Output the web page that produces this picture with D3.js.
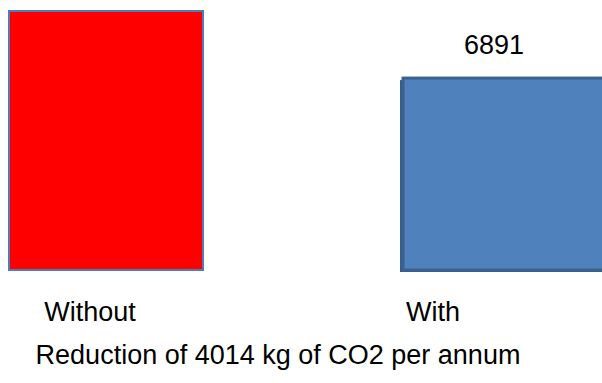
<!DOCTYPE html>
<html>
<head>
<meta charset="utf-8">
<script src="https://cdn.jsdelivr.net/npm/d3@7"></script>
<style>
  html, body { margin: 0; padding: 0; background: #fff; }
  text { font-family: "Liberation Sans", Arial, sans-serif; fill: #000; }
</style>
</head>
<body>
<div id="chart"></div>
<script>
// data (the red bar's label is cut off at the top)
const categories = ["Without", "With"];
const values = [9300, 6891];
const valueLabels = ["", "6891"];
const colors = ["#ff0000", "#4f81bd"];
const strokes = ["#4a7ebb", "#3a6190"];
const caption = "Reduction of 4014 kg of CO2 per annum";

let config = {
    div: '#chart',
    width: 602,
    height: 383,
    top: 11,
    bottom: 270,
    left: 9,
    right: 597
};

let svg = d3.select(config.div)
    .append("svg")
    .attr("width", config.width)
    .attr("height", config.height);

let x = d3.scaleBand()
    .domain(categories)
    .range([config.left, config.right])
    .paddingInner(200 / 394);

let y = d3.scaleLinear()
    .domain([0, d3.max(values)])
    .range([config.bottom, config.top]);

let data = categories.map((c, i) => ({name: c, value: values[i], label: valueLabels[i], i: i}));

// the last bar runs off the right edge of the picture
let barWidth = d => d.i === categories.length - 1 ? config.width - x(d.name) + 4 : x.bandwidth();

// shadow under the blue bar
svg.append("g")
    .selectAll("rect")
    .data(data.filter(d => d.i === 1))
    .join("rect")
    .attr("x", d => x(d.name) - 3)
    .attr("y", d => y(d.value) + 2)
    .attr("width", barWidth)
    .attr("height", d => y(0) - y(d.value))
    .attr("fill", "#385d8a");

// bars
svg.append("g")
    .selectAll("rect")
    .data(data)
    .join("rect")
    .attr("x", d => x(d.name))
    .attr("y", d => y(d.value))
    .attr("width", barWidth)
    .attr("height", d => y(0) - y(d.value))
    .attr("fill", d => colors[d.i])
    .attr("stroke", d => strokes[d.i])
    .attr("stroke-width", d => d.i === 1 ? 3 : 2);

// value labels
svg.append("g")
    .selectAll("text")
    .data(data)
    .join("text")
    .attr("x", d => x(d.name) + x.bandwidth() / 2 - 6)
    .attr("y", d => y(d.value) - 24)
    .attr("text-anchor", "middle")
    .attr("font-size", 27)
    .text(d => d.label);

// category labels (placed like the text boxes of the original)
let labelOffset = [-16, -67];
svg.append("g")
    .selectAll("text")
    .data(data)
    .join("text")
    .attr("x", d => x(d.name) + x.bandwidth() / 2 + labelOffset[d.i])
    .attr("y", 321)
    .attr("text-anchor", "middle")
    .attr("font-size", 27)
    .text(d => d.name);

svg.append("text")
    .attr("x", 278)
    .attr("y", 364)
    .attr("text-anchor", "middle")
    .attr("font-size", 27)
    .text(caption);
</script>
</body>
</html>
